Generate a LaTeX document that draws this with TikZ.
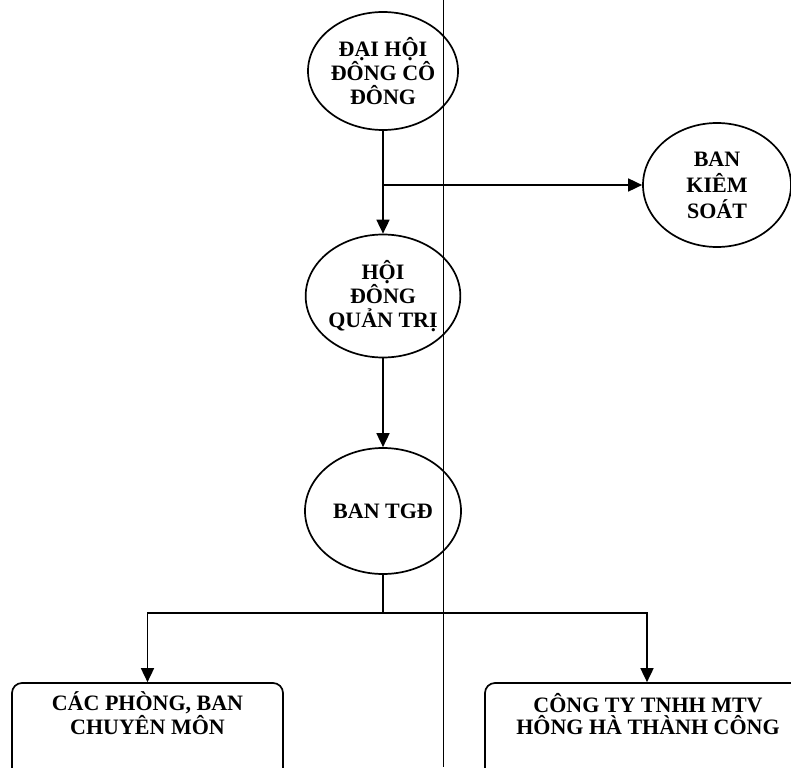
\documentclass[tikz,border=0pt]{standalone}
\usepackage{fontspec}
\setmainfont{Liberation Serif}
\usetikzlibrary{shapes.geometric,arrows.meta}
\begin{document}
\begin{tikzpicture}[x=1pt,y=-1pt,
  txt/.style={font=\fontsize{22}{24}\selectfont\bfseries,align=center},
  oval/.style={draw,ellipse,line width=1.7pt,inner sep=0pt,txt},
  unit/.style={draw,rounded corners=10pt,line width=1.7pt,inner sep=0pt},
  arr/.style={line width=1.7pt,-{Triangle[length=14pt,width=13pt]}},
  ln/.style={line width=1.7pt}]
\useasboundingbox (0,0) rectangle (791,767);
% thin vertical line
\coordinate (vt) at (443,0);
\coordinate (vb) at (443,767);
\draw[line width=1pt] (vt) -- (vb);
% ellipses
\node[oval,minimum width=150pt,minimum height=118pt] (e1) at (383,71) {ĐẠI HỘI\\ĐÔNG CÔ\\ĐÔNG};
\node[oval,minimum width=154pt,minimum height=123pt] (e2) at (383,296) {HỘI\\ĐÔNG\\QUẢN TRỊ};
\node[oval,minimum width=148pt,minimum height=124pt,font=\fontsize{22}{26}\selectfont\bfseries] (e3) at (717,185) {BAN\\KIÊM\\SOÁT};
\node[oval,minimum width=156pt,minimum height=126pt] (e4) at (383,511) {BAN TGĐ};
% boxes
\node[unit,minimum width=271pt,minimum height=110pt] (bl) at (147.5,738) {};
\node[unit,minimum width=324pt,minimum height=110pt] (br) at (647,738) {};
\node[txt,font=\fontsize{22}{22.5}\selectfont\bfseries] (tl) at (147.5,713) {CÁC PHÒNG, BAN\\CHUYÊN MÔN};
\node[txt,font=\fontsize{22}{22.5}\selectfont\bfseries] (tr) at (648,714) {CÔNG TY TNHH MTV\\HÔNG HÀ THÀNH CÔNG};
% connectors
\draw[arr] (e1.south) -- (e2.north);
\coordinate (b1) at (383,185);
\draw[arr] (b1) -- (e3.west);
\draw[arr] (e2.south) -- (e4.north);
\coordinate (c1) at (383,613);
\draw[ln] (e4.south) -- (c1);
\draw[arr] (c1) -| (bl.north);
\draw[arr] (c1) -| (br.north);
\end{tikzpicture}
\end{document}
